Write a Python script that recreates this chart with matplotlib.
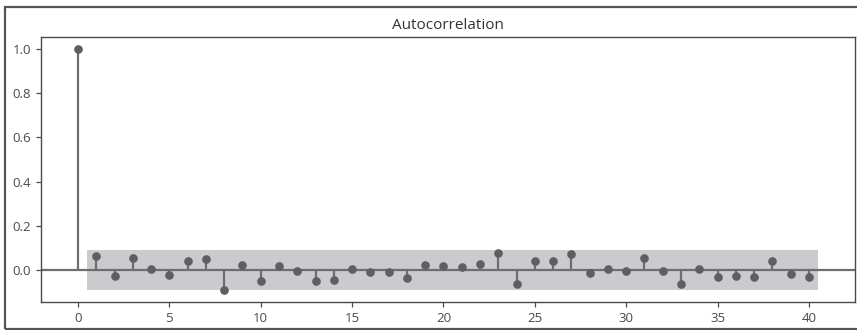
import numpy as np
import matplotlib.pyplot as plt
from matplotlib.patches import Rectangle

# acf values (lag 0..40)
lags = list(range(41))
acf_vals = [1.0, 0.061, -0.026, 0.055, 0.003, -0.024, 0.040, 0.047, -0.090, 0.023,
            -0.052, 0.018, -0.003, -0.052, -0.044, 0.005, -0.008, -0.008, -0.038, 0.023,
            0.018, 0.011, 0.027, 0.078, -0.062, 0.040, 0.040, 0.072, -0.015, 0.005,
            -0.003, 0.055, -0.003, -0.062, 0.005, -0.032, -0.026, -0.032, 0.040, -0.020,
            -0.032]
conf_half = 0.091
title = "Autocorrelation"

plt.rcParams['font.family'] = ['Open Sans', 'DejaVu Sans']

fig = plt.figure(figsize=(8.57, 3.30), dpi=100)
ax = fig.add_axes([41 / 857, 1 - 302 / 330, (855 - 41) / 857, (302 - 37) / 330])

lag_arr = np.array(lags)
acf_arr = np.array(acf_vals)

# confidence band (lags 1..40, half a lag wider on each side)
band_x = lag_arr[1:].astype(float)
band_x[0] -= 0.5
band_x[-1] += 0.5
ax.fill_between(band_x, -conf_half, conf_half, color='#cbcbcd', lw=0, zorder=1)

ax.axhline(0, color='#6e6e70', lw=1.6, zorder=2)
ax.vlines(lag_arr, 0, acf_arr, color='#6e6e70', lw=1.6, zorder=3)
ax.plot(lag_arr, acf_arr, 'o', color='#5f5f62', ms=5.2, zorder=4)

ax.margins(0.05)
ax.set_xticks([0, 5, 10, 15, 20, 25, 30, 35, 40])
ax.set_yticks([0.0, 0.2, 0.4, 0.6, 0.8, 1.0])
ax.set_yticklabels(['0.0', '0.2', '0.4', '0.6', '0.8', '1.0'])
ax.tick_params(colors='#4a4a4a', labelsize=9.5, length=3.5, width=0.9)
for s in ax.spines.values():
    s.set_color('#4a4a4a')
    s.set_linewidth(1.0)
ax.set_title(title, fontsize=11, color='#333333', pad=6)

# screenshot frame around the figure
fig.add_artist(Rectangle((5 / 857, 1 / 330), 1.2, 322 / 330, transform=fig.transFigure,
                         fill=False, edgecolor='#555555', lw=1.6))

fig.savefig('out.png', dpi=100)
